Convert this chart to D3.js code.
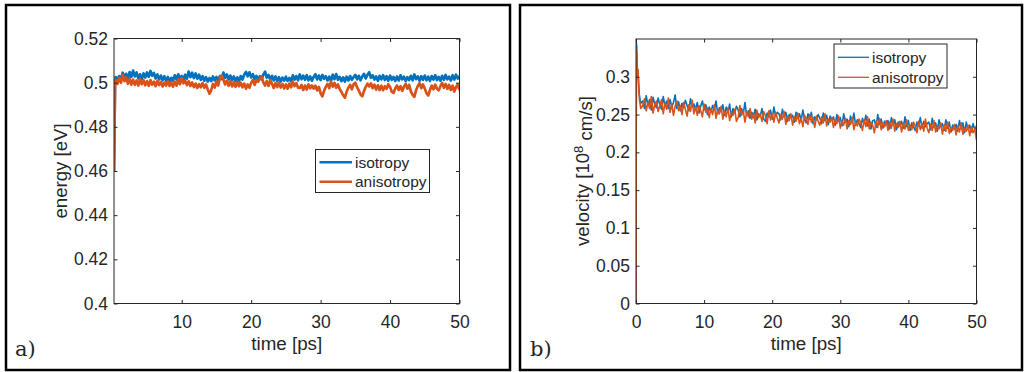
<!DOCTYPE html>
<html><head><meta charset="utf-8">
<script src="https://cdn.jsdelivr.net/npm/d3@7"></script>
<style>
html,body{margin:0;padding:0;background:#fff;}
svg{display:block;}
text{font-family:"Liberation Sans",Arial,Helvetica,sans-serif;fill:#262626;}
</style>
</head><body>
<svg id="c" width="1024" height="372"></svg>
<script>
// ---------- shared sampling times (ps) ----------
const timeStartA = [0.25,0.4,0.5,0.75];
const timeStartB = [0,0.05,0.1,0.15,0.2,0.3,0.4,0.5,0.7];
const timeMain = [
 1,1.25,1.5,1.75,2,2.25,2.5,2.75,
 3,3.25,3.5,3.75,4,4.25,4.5,4.75,
 5,5.25,5.5,5.75,6,6.25,6.5,6.75,
 7,7.25,7.5,7.75,8,8.25,8.5,8.75,
 9,9.25,9.5,9.75,10,10.25,10.5,10.75,
 11,11.25,11.5,11.75,12,12.25,12.5,12.75,
 13,13.25,13.5,13.75,14,14.25,14.5,14.75,
 15,15.25,15.5,15.75,16,16.25,16.5,16.75,
 17,17.25,17.5,17.75,18,18.25,18.5,18.75,
 19,19.25,19.5,19.75,20,20.25,20.5,20.75,
 21,21.25,21.5,21.75,22,22.25,22.5,22.75,
 23,23.25,23.5,23.75,24,24.25,24.5,24.75,
 25,25.25,25.5,25.75,26,26.25,26.5,26.75,
 27,27.25,27.5,27.75,28,28.25,28.5,28.75,
 29,29.25,29.5,29.75,30,30.25,30.5,30.75,
 31,31.25,31.5,31.75,32,32.25,32.5,32.75,
 33,33.25,33.5,33.75,34,34.25,34.5,34.75,
 35,35.25,35.5,35.75,36,36.25,36.5,36.75,
 37,37.25,37.5,37.75,38,38.25,38.5,38.75,
 39,39.25,39.5,39.75,40,40.25,40.5,40.75,
 41,41.25,41.5,41.75,42,42.25,42.5,42.75,
 43,43.25,43.5,43.75,44,44.25,44.5,44.75,
 45,45.25,45.5,45.75,46,46.25,46.5,46.75,
 47,47.25,47.5,47.75,48,48.25,48.5,48.75,
 49,49.25,49.5,49.75,50];

// ---------- Panel a: energy [eV] ----------
const energyIso = [
 0.460,0.500,0.5025,0.5015,
 0.5030,0.5015,0.5045,0.5022,0.5040,0.5017,0.5048,0.5026,
 0.5055,0.5028,0.5046,0.5019,0.5038,0.5016,0.5042,0.5023,
 0.5046,0.5027,0.5053,0.5031,0.5044,0.5019,0.5037,0.5015,
 0.5032,0.5011,0.5029,0.5008,0.5026,0.5005,0.5022,0.5009,
 0.5033,0.5014,0.5038,0.5017,0.5031,0.5012,0.5036,0.5018,
 0.5050,0.5025,0.5045,0.5021,0.5042,0.5018,0.5036,0.5013,
 0.5029,0.5009,0.5025,0.5005,0.5021,0.5007,0.5028,0.5010,
 0.5026,0.5008,0.5030,0.5016,0.5046,0.5022,0.5037,0.5015,
 0.5032,0.5011,0.5028,0.5008,0.5024,0.5006,0.5030,0.5014,
 0.5036,0.5049,0.5029,0.5047,0.5024,0.5038,0.5016,0.5031,
 0.5012,0.5029,0.5015,0.5036,0.5050,0.5023,0.5035,0.5013,
 0.5031,0.5010,0.5028,0.5007,0.5025,0.5005,0.5023,0.5009,
 0.5027,0.5008,0.5022,0.5006,0.5033,0.5014,0.5030,0.5011,
 0.5037,0.5016,0.5032,0.5013,0.5034,0.5011,0.5028,0.5009,
 0.5026,0.5038,0.5015,0.5032,0.5012,0.5035,0.5018,0.5029,
 0.5010,0.5027,0.5008,0.5036,0.5016,0.5039,0.5013,0.5026,
 0.5007,0.5024,0.5005,0.5027,0.5010,0.5030,0.5013,0.5025,
 0.5035,0.5015,0.5031,0.5011,0.5028,0.5040,0.5019,0.5036,
 0.5047,0.5022,0.5033,0.5014,0.5028,0.5009,0.5031,0.5015,
 0.5034,0.5012,0.5029,0.5009,0.5032,0.5013,0.5026,0.5008,
 0.5028,0.5010,0.5033,0.5015,0.5027,0.5007,0.5025,0.5012,
 0.5031,0.5011,0.5037,0.5016,0.5028,0.5009,0.5029,0.5013,
 0.5032,0.5011,0.5027,0.5008,0.5030,0.5014,0.5034,0.5012,
 0.5026,0.5009,0.5031,0.5013,0.5035,0.5015,0.5027,0.5010,
 0.5033,0.5014,0.5036,0.5019,0.5030];
const energyAniso = [
 0.460,0.499,0.5012,0.4995,
 0.5022,0.5000,0.5036,0.5007,0.5024,0.4995,0.5018,0.4991,
 0.5014,0.4990,0.5010,0.4987,0.5016,0.4993,0.5011,0.4988,
 0.5007,0.4986,0.5012,0.4991,0.5005,0.4984,0.5008,0.4989,
 0.5003,0.4983,0.5000,0.4987,0.5006,0.4985,0.5001,0.4982,
 0.5004,0.4987,0.5015,0.4993,0.5020,0.4997,0.5010,0.4989,
 0.5006,0.4985,0.5001,0.4980,0.4996,0.4976,0.4993,0.4979,
 0.4998,0.4977,0.4992,0.4969,0.4950,0.4966,0.4994,0.4978,
 0.5005,0.4987,0.5020,0.5033,0.5014,0.4992,0.5009,0.4986,
 0.5006,0.4983,0.5002,0.4981,0.5004,0.4984,0.5000,0.4979,
 0.4996,0.4973,0.4992,0.4977,0.4999,0.5012,0.4990,0.5010,
 0.5004,0.5017,0.5028,0.5001,0.4987,0.5008,0.4985,0.5012,
 0.4995,0.4976,0.4998,0.4980,0.5000,0.4978,0.4994,0.4974,
 0.4992,0.4973,0.4996,0.4979,0.5005,0.4984,0.4998,0.4977,
 0.4976,0.4990,0.4967,0.4987,0.4969,0.4992,0.4975,0.4988,
 0.4973,0.4986,0.4965,0.4981,0.4952,0.4938,0.4963,0.4982,
 0.4994,0.4975,0.5005,0.4982,0.4999,0.4977,0.4992,0.4971,
 0.4958,0.4943,0.4932,0.4960,0.4977,0.4990,0.4970,0.4993,
 0.5000,0.4979,0.4965,0.4946,0.4938,0.4963,0.4981,0.4995,
 0.4983,0.4997,0.4975,0.4991,0.4969,0.4988,0.4967,0.4986,
 0.4966,0.4984,0.4972,0.4993,0.4980,0.4959,0.4953,0.4974,
 0.4987,0.4967,0.4984,0.4963,0.4981,0.4994,0.4973,0.4990,
 0.4960,0.4945,0.4936,0.4966,0.4985,0.4998,0.4975,0.4992,
 0.4973,0.4952,0.4942,0.4967,0.4987,0.4970,0.4991,0.4973,
 0.4965,0.4984,0.4999,0.4977,0.4994,0.4972,0.4990,0.4967,
 0.4986,0.4960,0.4980,0.4992,0.4966];
const xTicksA = [10,20,30,40,50];
const xLabelsA = ["10","20","30","40","50"];
const yTicksA = [0.4,0.42,0.44,0.46,0.48,0.5,0.52];
const yLabelsA = ["0.4","0.42","0.44","0.46","0.48","0.5","0.52"];

// ---------- Panel b: velocity [1e8 cm/s] ----------
const velocityIso = [
 0,0.345,0.340,0.325,0.310,0.305,0.290,0.275,0.265,
 0.268,0.258,0.275,0.262,0.270,0.256,0.273,0.264,
 0.259,0.272,0.263,0.257,0.274,0.261,0.268,0.258,
 0.270,0.260,0.266,0.276,0.258,0.267,0.255,0.265,
 0.259,0.269,0.262,0.255,0.271,0.260,0.264,0.257,
 0.266,0.252,0.261,0.268,0.256,0.263,0.250,0.260,
 0.253,0.262,0.256,0.268,0.251,0.259,0.254,0.263,
 0.249,0.260,0.253,0.264,0.247,0.258,0.252,0.261,
 0.256,0.247,0.258,0.251,0.266,0.249,0.255,0.245,
 0.253,0.246,0.257,0.243,0.251,0.248,0.258,0.244,
 0.241,0.252,0.247,0.256,0.244,0.260,0.248,0.253,
 0.251,0.243,0.257,0.247,0.253,0.241,0.250,0.246,
 0.249,0.240,0.253,0.245,0.251,0.242,0.256,0.244,
 0.239,0.251,0.244,0.253,0.238,0.247,0.243,0.250,
 0.245,0.238,0.252,0.242,0.249,0.237,0.248,0.243,
 0.247,0.236,0.250,0.241,0.246,0.235,0.251,0.240,
 0.244,0.234,0.248,0.239,0.252,0.236,0.243,0.238,
 0.233,0.245,0.238,0.249,0.235,0.244,0.231,0.242,
 0.243,0.233,0.250,0.237,0.244,0.232,0.241,0.236,
 0.242,0.231,0.246,0.236,0.243,0.230,0.240,0.235,
 0.241,0.232,0.247,0.234,0.242,0.229,0.239,0.234,
 0.229,0.240,0.235,0.246,0.232,0.241,0.234,0.238,
 0.240,0.230,0.245,0.233,0.239,0.228,0.243,0.234,
 0.238,0.229,0.243,0.232,0.240,0.227,0.236,0.231,
 0.237,0.228,0.242,0.231,0.239,0.226,0.240,0.230,
 0.236,0.227,0.238,0.230,0.235];
const velocityAniso = [
 0,0.335,0.330,0.318,0.300,0.310,0.285,0.270,0.258,
 0.262,0.271,0.255,0.266,0.258,0.274,0.252,0.263,
 0.268,0.254,0.262,0.270,0.251,0.265,0.257,0.272,
 0.253,0.264,0.249,0.261,0.268,0.255,0.262,0.250,
 0.266,0.257,0.248,0.263,0.254,0.269,0.251,0.260,
 0.249,0.262,0.255,0.247,0.264,0.253,0.259,0.246,
 0.258,0.250,0.263,0.245,0.256,0.251,0.261,0.244,
 0.255,0.247,0.259,0.242,0.253,0.249,0.257,0.241,
 0.246,0.262,0.249,0.255,0.240,0.253,0.247,0.258,
 0.244,0.252,0.239,0.256,0.246,0.250,0.241,0.254,
 0.249,0.238,0.255,0.243,0.251,0.240,0.253,0.245,
 0.239,0.250,0.244,0.254,0.237,0.248,0.242,0.251,
 0.236,0.247,0.241,0.252,0.238,0.245,0.234,0.249,
 0.244,0.237,0.250,0.240,0.246,0.233,0.248,0.241,
 0.236,0.247,0.239,0.251,0.235,0.244,0.240,0.246,
 0.233,0.243,0.238,0.248,0.232,0.241,0.236,0.245,
 0.231,0.242,0.237,0.246,0.230,0.240,0.235,0.244,
 0.239,0.229,0.243,0.234,0.247,0.231,0.240,0.236,
 0.226,0.241,0.233,0.245,0.230,0.239,0.234,0.242,
 0.229,0.240,0.232,0.244,0.228,0.238,0.233,0.241,
 0.227,0.239,0.231,0.243,0.229,0.236,0.230,0.240,
 0.235,0.226,0.241,0.230,0.238,0.228,0.244,0.232,
 0.226,0.237,0.229,0.242,0.227,0.235,0.231,0.239,
 0.224,0.236,0.228,0.240,0.225,0.233,0.229,0.237,
 0.223,0.235,0.227,0.239,0.224,0.232,0.228,0.236,
 0.222,0.234,0.226,0.231,0.216];
const xTicksB = [0,10,20,30,40,50];
const xLabelsB = ["0","10","20","30","40","50"];
const yTicksB = [0,0.05,0.1,0.15,0.2,0.25,0.3];
const yLabelsB = ["0","0.05","0.1","0.15","0.2","0.25","0.3"];

const seriesNames = ["isotropy","anisotropy"];
const BLUE = "#0072BD", ORANGE = "#D95319", INK = "#262626";

const timeA = timeStartA.concat(timeMain);
const timeB = timeStartB.concat(timeMain);

const svg = d3.select("#c");

svg.append("rect").attr("x",6).attr("y",5).attr("width",504).attr("height",365)
  .attr("fill","none").attr("stroke","#000").attr("stroke-width",2.5);
svg.append("rect").attr("x",520).attr("y",5).attr("width",502).attr("height",365)
  .attr("fill","none").attr("stroke","#000").attr("stroke-width",2.5);

function panel(o){
  const g = svg.append("g");
  const x = d3.scaleLinear().domain(o.xDom).range(o.xRange);
  const y = d3.scaleLinear().domain(o.yDom).range(o.yRange);
  const [x0,x1] = o.xRange, [yb,yt] = o.yRange;

  const clipId = "clip-" + o.id;
  svg.append("clipPath").attr("id",clipId).append("rect")
    .attr("x",x0).attr("y",yt).attr("width",x1-x0).attr("height",yb-yt);

  const line = d3.line().x(d=>x(d[0])).y(d=>y(d[1]));
  const lg = g.append("g").attr("clip-path",`url(#${clipId})`);
  o.series.forEach((s,i)=>{
    lg.append("path").datum(d3.zip(o.t, s))
      .attr("d",line).attr("fill","none")
      .attr("stroke",o.colors[i]).attr("stroke-width",o.lw)
      .attr("stroke-linejoin","round");
  });

  function style(ax){
    ax.select(".domain").remove();
    ax.selectAll(".tick line").attr("stroke",INK).attr("stroke-width",1);
    ax.selectAll(".tick text").style("font-size","17.5px").attr("fill",INK);
  }
  g.append("g").attr("transform",`translate(0,${yb})`)
    .call(d3.axisBottom(x).tickValues(o.xTicks).tickFormat((d,i)=>o.xLabels[i])
      .tickSizeInner(-3.5).tickSizeOuter(0).tickPadding(12)).call(style);
  g.append("g").attr("transform",`translate(0,${yt})`)
    .call(d3.axisTop(x).tickValues(o.xTicks).tickFormat("")
      .tickSizeInner(-3.5).tickSizeOuter(0)).call(style);
  g.append("g").attr("transform",`translate(${x0},0)`)
    .call(d3.axisLeft(y).tickValues(o.yTicks).tickFormat((d,i)=>o.yLabels[i])
      .tickSizeInner(-3.5).tickSizeOuter(0).tickPadding(6)).call(style);
  g.append("g").attr("transform",`translate(${x1},0)`)
    .call(d3.axisRight(y).tickValues(o.yTicks).tickFormat("")
      .tickSizeInner(-3.5).tickSizeOuter(0)).call(style);

  g.append("rect").attr("x",x0).attr("y",yt).attr("width",x1-x0).attr("height",yb-yt)
    .attr("fill","none").attr("stroke",INK).attr("stroke-width",1);

  g.append("text").attr("x",(x0+x1)/2).attr("y",350).attr("text-anchor","middle")
    .style("font-size","18.8px").text("time [ps]");
  const yl = g.append("text").attr("transform",`translate(${o.ylabX},171) rotate(-90)`)
    .attr("text-anchor","middle").style("font-size","18.6px");
  o.ylabel(yl);

  const L = o.legend;
  g.append("rect").attr("x",L.x).attr("y",L.y).attr("width",L.w).attr("height",L.h)
    .attr("fill","#fff").attr("stroke",INK).attr("stroke-width",1);
  seriesNames.forEach((n,i)=>{
    const ly = L.y + L.first + i*L.step;
    g.append("line").attr("x1",L.x+4).attr("x2",L.x+4+L.len).attr("y1",ly).attr("y2",ly)
      .attr("stroke",o.colors[i]).attr("stroke-width",o.legendLw);
    g.append("text").attr("x",L.x+7+L.len).attr("y",ly+5.3)
      .style("font-size","15.5px").text(n);
  });

  g.append("text").attr("x",o.tagX).attr("y",356)
    .style("font-family","'DejaVu Serif',serif").style("font-size","21px").attr("fill","#000")
    .text(o.tag);
}

panel({
  id:"a", t:timeA, series:[energyIso, energyAniso], colors:[BLUE,ORANGE], lw:2.7, legendLw:2.5,
  xDom:[0.25,50], xRange:[114,459.5], yDom:[0.4,0.52], yRange:[303.5,38.5],
  xTicks:xTicksA, xLabels:xLabelsA, yTicks:yTicksA, yLabels:yLabelsA,
  ylabX:66.5,
  ylabel: t=>t.text("energy [eV]"),
  legend:{x:315.5,y:149.5,w:114,h:43,first:12.8,step:19.4,len:32.5},
  tag:"a)", tagX:15
});

panel({
  id:"b", t:timeB, series:[velocityIso, velocityAniso], colors:[BLUE,ORANGE], lw:1.6, legendLw:1.3,
  xDom:[0,50], xRange:[636,976.5], yDom:[0,0.35], yRange:[303.5,39],
  xTicks:xTicksB, xLabels:xLabelsB, yTicks:yTicksB, yLabels:yLabelsB,
  ylabX:589,
  ylabel: t=>{
    t.append("tspan").text("velocity [10");
    t.append("tspan").attr("dy","-0.45em").style("font-size","13px").text("8");
    t.append("tspan").attr("dy","0.45em").text(" cm/s]");
  },
  legend:{x:834,y:44,w:113,h:44,first:13.3,step:20,len:31},
  tag:"b)", tagX:530
});
</script>
</body></html>
